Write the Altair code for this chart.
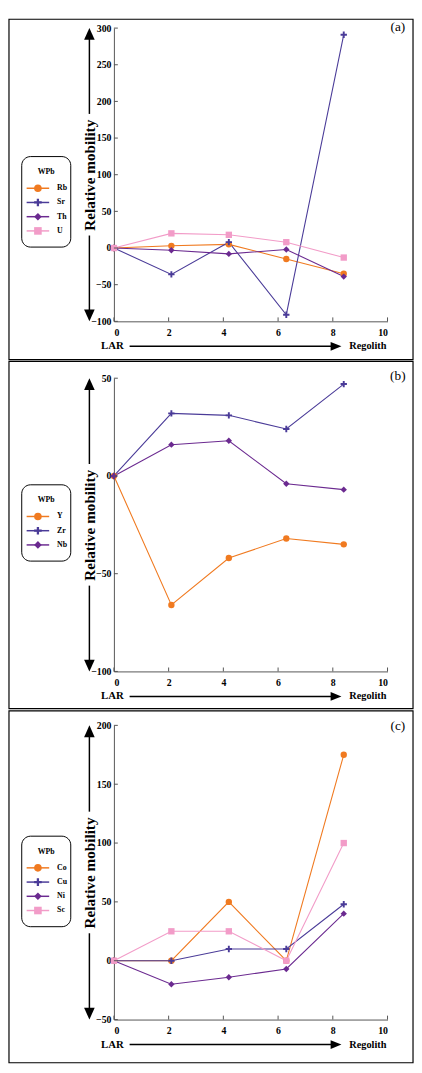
import altair as alt
import pandas as pd

# ---------------- data ----------------
LAR = [0, 2.1, 4.2, 6.3, 8.4]
x_ticks = [0, 2, 4, 6, 8, 10]

a_elements = ["Rb", "Sr", "Th", "U"]
Rb = [0, 3, 5, -15, -35]
Sr = [0, -36, 8, -91, 291]
Th = [0, -3, -8, -2, -39]
U = [0, 20, 18, 8, -13]
a_ticks = [-100, -50, 0, 50, 100, 150, 200, 250, 300]

b_elements = ["Y", "Zr", "Nb"]
Yv = [0, -66, -42, -32, -35]
Zr = [0, 32, 31, 24, 47]
Nb = [0, 16, 18, -4, -7]
b_ticks = [-100, -50, 0, 50]

c_elements = ["Co", "Cu", "Ni", "Sc"]
Co = [0, 0, 50, 0, 175]
Cu = [0, 0, 10, 10, 48]
Ni = [0, -20, -14, -7, 40]
Sc = [0, 25, 25, 0, 100]
c_ticks = [-50, 0, 50, 100, 150, 200]

# ---------------- styles ----------------
FONT = "Liberation Serif"
COLORS = ["#F07A20", "#4A3B98", "#6B2A90", "#F29CC8"]
CROSS = "M-0.3,-1H0.3V-0.3H1V0.3H0.3V1H-0.3V0.3H-1V-0.3H-0.3Z"
SHAPES = ["circle", CROSS, "diamond", "square"]
UP = "M0,-1L0.9,1L-0.9,1Z"
DOWN = "M0,1L0.9,-1L-0.9,-1Z"
RIGHT = "M1,0L-1,-0.8L-1,0.8Z"
W = 279
one = pd.DataFrame({"k": [0]})


def make_panel(label, elements, series, ticks, ymin, ymax, h,
               frame_top, frame_bottom, label_y, legend_top):
    n = len(elements)
    df = pd.DataFrame({
        "LAR": LAR * n,
        "element": [e for e in elements for _ in LAR],
        "value": [v for s in series for v in s],
    })
    cscale = alt.Scale(domain=elements, range=COLORS[:n])
    sscale = alt.Scale(domain=elements, range=SHAPES[:n])

    x_axis = alt.Axis(values=x_ticks, title=None, labelPadding=6, labelOverlap=False,
                      tickCount=len(x_ticks))
    y_axis = alt.Axis(values=ticks, title="Relative mobility", labelOverlap=False,
                      tickCount=len(ticks),
                      titleX=-25, titleY=h / 2, titleAngle=270,
                      titleAlign="center", titleBaseline="middle",
                      titleFont=FONT, titleFontSize=15.5,
                      titleFontWeight="bold", titleColor="black",
                      labelPadding=3)
    x_scale = alt.Scale(domain=[0, 10], nice=False)
    y_scale = alt.Scale(domain=[ymin, ymax], nice=False, zero=False)
    xenc = alt.X("LAR:Q", scale=x_scale, axis=x_axis)
    yenc = alt.Y("value:Q", scale=y_scale, axis=y_axis)

    layers = []
    # frame
    layers.append(alt.Chart(one).mark_rect(fillOpacity=0, stroke="black", strokeWidth=1.2).encode(
        x=alt.value(-107), x2=alt.value(305), y=alt.value(frame_top), y2=alt.value(frame_bottom)))

    lines = alt.Chart(df).mark_line(strokeWidth=1.1).encode(
        x=xenc, y=yenc,
        color=alt.Color("element:N", scale=cscale, legend=None),
        order="LAR:Q")
    points = alt.Chart(df).mark_point(filled=True, opacity=1, size=42).encode(
        x=xenc, y=yenc,
        color=alt.Color("element:N", scale=cscale, legend=None),
        shape=alt.Shape("element:N", scale=sscale, legend=None))
    layers += [lines, points]

    # inward ticks
    layers.append(alt.Chart(pd.DataFrame({"value": ticks})).mark_rule(color="#555", strokeWidth=1).encode(
        y=yenc, x=alt.value(0), x2=alt.value(4)))
    layers.append(alt.Chart(pd.DataFrame({"LAR": x_ticks})).mark_rule(color="#555", strokeWidth=1).encode(
        x=xenc, y=alt.value(h), y2=alt.value(h - 4)))

    # vertical double arrow along y axis title
    layers.append(alt.Chart(one).mark_rule(color="black", strokeWidth=1.5).encode(
        x=alt.value(-25), y=alt.value(10), y2=alt.value(h / 2 - 62)))
    layers.append(alt.Chart(one).mark_rule(color="black", strokeWidth=1.5).encode(
        x=alt.value(-25), y=alt.value(h / 2 + 62), y2=alt.value(h - 10)))
    layers.append(alt.Chart(one).mark_point(shape=UP, filled=True, color="black", opacity=1, size=144).encode(
        x=alt.value(-25), y=alt.value(6)))
    layers.append(alt.Chart(one).mark_point(shape=DOWN, filled=True, color="black", opacity=1, size=144).encode(
        x=alt.value(-25), y=alt.value(h - 6)))

    # LAR -> Regolith
    ay = h + 25.5
    layers.append(alt.Chart(one).mark_text(text="LAR", font=FONT, fontSize=11, fontWeight="bold",
                                           align="center", baseline="middle", color="black").encode(
        x=alt.value(-1.5), y=alt.value(ay)))
    layers.append(alt.Chart(one).mark_rule(color="black", strokeWidth=1.5).encode(
        x=alt.value(16), x2=alt.value(223), y=alt.value(ay)))
    layers.append(alt.Chart(one).mark_point(shape=RIGHT, filled=True, color="black", opacity=1, size=121).encode(
        x=alt.value(226.5), y=alt.value(ay)))
    layers.append(alt.Chart(one).mark_text(text="Regolith", font=FONT, fontSize=10.5, fontWeight="bold",
                                           align="left", baseline="middle", color="black").encode(
        x=alt.value(240), y=alt.value(ay)))

    # panel label
    layers.append(alt.Chart(one).mark_text(text=label, font=FONT, fontSize=13.5,
                                           align="center", baseline="middle", color="black").encode(
        x=alt.value(289.5), y=alt.value(label_y)))

    # legend
    lb = legend_top + 32.3 + 14.5 * (n - 1) + 16.5
    layers.append(alt.Chart(one).mark_rect(cornerRadius=9, fill="white", stroke="black", strokeWidth=1).encode(
        x=alt.value(-94), x2=alt.value(-44), y=alt.value(legend_top), y2=alt.value(lb)))
    layers.append(alt.Chart(one).mark_text(text="WPb", font=FONT, fontSize=8, fontWeight="bold",
                                           align="center", baseline="middle", color="black").encode(
        x=alt.value(-69), y=alt.value(legend_top + 16)))
    for i, e in enumerate(elements):
        yi = legend_top + 32.3 + 14.5 * i
        row = pd.DataFrame({"element": [e]})
        layers.append(alt.Chart(row).mark_rule(strokeWidth=1.5).encode(
            x=alt.value(-89), x2=alt.value(-66), y=alt.value(yi),
            color=alt.Color("element:N", scale=cscale, legend=None)))
        layers.append(alt.Chart(row).mark_point(filled=True, opacity=1, size=60).encode(
            x=alt.value(-77.5), y=alt.value(yi),
            color=alt.Color("element:N", scale=cscale, legend=None),
            shape=alt.Shape("element:N", scale=sscale, legend=None)))
        layers.append(alt.Chart(row).mark_text(font=FONT, fontSize=8, fontWeight="bold",
                                               align="left", baseline="middle", color="black").encode(
            x=alt.value(-58), y=alt.value(yi), text="element:N"))

    return alt.layer(*layers).properties(width=W, height=h)


pa = make_panel("(a)", a_elements, [Rb, Sr, Th, U], a_ticks, -100, 300, 299,
                -9, 338, -1.5, 131)
pb = make_panel("(b)", b_elements, [Yv, Zr, Nb], b_ticks, -100, 50, 299,
                -17.2, 337, -2, 108.7)
pc = make_panel("(c)", c_elements, [Co, Cu, Ni, Sc], c_ticks, -50, 200, 300,
                -14.8, 344, 0.5, 113)

chart = alt.vconcat(pa, pb, pc, spacing=0).resolve_scale(
    color="independent", shape="independent", x="independent", y="independent"
).properties(padding=0).configure_view(
    stroke=None
).configure_axis(
    grid=False, ticks=False, tickSize=0, domainColor="#555", domainWidth=1,
    labelOverlap=False,
    labelFont=FONT, labelFontWeight="bold", labelFontSize=10, labelColor="black"
)

chart.save("out.html", embed_options={"renderer": "svg", "actions": False})
